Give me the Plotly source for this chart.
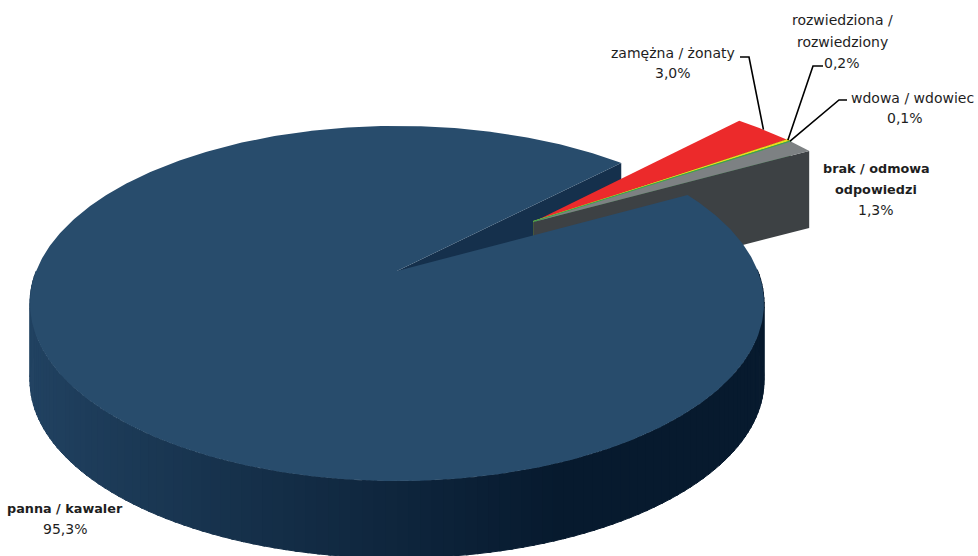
import numpy as np
import plotly.graph_objects as go

# ---- data -------------------------------------------------------------
categories = ["panna / kawaler", "zamężna / żonaty", "rozwiedziona / rozwiedziony",
              "wdowa / wdowiec", "brak / odmowa odpowiedzi"]
shares = [95.3, 3.0, 0.2, 0.1, 1.3]
value_labels = ["95,3%", "3,0%", "0,2%", "0,1%", "1,3%"]
exploded = [False, True, True, True, True]

# ---- styling ----------------------------------------------------------
top_colors = ["#284c6c", "#ec2a2b", "#e6de1e", "#3ea24e", "#7d8183"]
wall_colors = ["#15304c", "#a01a1c", "#b8b014", "#2a7a38", "#3d4144"]
edge_widths = [0, 0, 2.0, 2.2, 0]
side_left = np.array([33, 66, 97])
side_right = np.array([7, 26, 46])

W, H = 978, 556
X0, Y0 = 397.0, 271.0        # screen position of the pie centre
K, KC = 360.8, 171.6         # horizontal / vertical radius scale
P = 0.183                    # perspective foreshortening
T = 77.0                     # pie thickness in px
START = 28.8                 # angle where the first slice starts (deg, clockwise)
EXPLODE = 0.5                # offset of detached slices, in radii
SMALL_R = 1.04


def proj(X, Y, z=0.0):
    w = 1.0 + P * Y
    return X0 + K * X / w, Y0 - KC * Y / w + z


def rim(angle_deg, cx=0.0, cy=0.0, r=1.0, z=0.0):
    a = np.radians(angle_deg)
    return proj(cx + r * np.cos(a), cy + r * np.sin(a), z)


total = sum(shares)
cum = np.concatenate([[0], np.cumsum(shares)]) / total
a_start = START - 360 * cum[:-1]
a_end = START - 360 * cum[1:]

# detached slices move together along the bisector of their common span
grp = [i for i, e in enumerate(exploded) if e]
bis = np.radians((a_start[grp[0]] + a_end[grp[-1]]) / 2)
ex, ey = EXPLODE * np.cos(bis), EXPLODE * np.sin(bis)

fig = go.Figure()


def poly(xs, ys, color, lw=0):
    fig.add_trace(go.Scatter(x=list(xs), y=list(ys), mode="lines", fill="toself",
                             fillcolor=color,
                             line=dict(color=color, width=lw),
                             hoverinfo="skip", showlegend=False))


def seg(xs, ys, color, lw):
    fig.add_trace(go.Scatter(x=list(xs), y=list(ys), mode="lines",
                             line=dict(color=color, width=lw),
                             hoverinfo="skip", showlegend=False))


def rgb(c):
    return "rgb(%d,%d,%d)" % tuple(int(round(v)) for v in c)


# outer side of the main slice, shaded from left to right
n = 120
angs = np.linspace(180, 360, n + 1)
for k in range(n):
    a0, a1 = angs[k], angs[k + 1] + 0.4
    tx0, ty0 = rim(a0)
    tx1, ty1 = rim(a1)
    bx0, by0 = rim(a0, z=T)
    bx1, by1 = rim(a1, z=T)
    xm = (tx0 + tx1) / 2
    t = np.clip((xm - 30) / (560 - 30), 0, 1) ** 0.9
    col = rgb(side_left * (1 - t) + side_right * t)
    poly([tx0, tx1, bx1, bx0], [ty0, ty1, by1, by0], col, lw=1)

# cut wall of the main slice facing the gap
ang = a_end[0]
ox, oy = rim(ang)
obx, oby = rim(ang, z=T)
ax_, ay_ = proj(0, 0)
abx, aby = proj(0, 0, T)
poly([ax_, ox, obx, abx], [ay_, oy, oby, aby], wall_colors[0])

# detached slices: wall on the clockwise side, then top face
for i in grp:
    cxs, cys = ex, ey
    px, py = proj(cxs, cys)
    pbx, pby = proj(cxs, cys, T)
    ox, oy = rim(a_end[i], cxs, cys, SMALL_R)
    obx, oby = rim(a_end[i], cxs, cys, SMALL_R, T)
    poly([px, ox, obx, pbx], [py, oy, oby, pby], wall_colors[i])
    arc = np.linspace(a_end[i], a_start[i], 30)
    rx, ry = rim(arc, cxs, cys, SMALL_R)
    poly(np.concatenate([[px], rx]), np.concatenate([[py], ry]), top_colors[i],
         lw=edge_widths[i])
    if i == 1:
        # darker rim along the lower edge of the red slice
        e0x, e0y = proj(cxs, cys, 1.2)
        e1x, e1y = rim(a_end[i], cxs, cys, SMALL_R, 1.2)
        seg([e0x, e1x], [e0y, e1y], wall_colors[i], 2.6)

# top face of the main slice
arc = np.linspace(a_end[0], a_start[0], 600)
rx, ry = rim(arc)
ax_, ay_ = proj(0, 0)
poly(np.concatenate([[ax_], rx]), np.concatenate([[ay_], ry]), top_colors[0])

# ---- labels -----------------------------------------------------------
FONT = "DejaVu Sans"
label_layout = {
    0: dict(x=[65, 65], ys=[508, 529], bold=[True, False]),
    1: dict(x=[673, 673], ys=[53, 73], bold=[False, False], elbow=(740, 749, 57)),
    2: dict(x=[842, 842, 842], ys=[20, 42, 63], bold=[False, False, False],
            elbow=(823, 813, 66)),
    3: dict(x=[912, 905], ys=[98, 118], bold=[False, False], elbow=(847, 839, 100)),
    4: dict(x=[876, 876, 876], ys=[168, 189, 210], bold=[True, True, False]),
}
name_lines = {
    0: ["panna / kawaler"],
    1: ["zamężna / żonaty"],
    2: ["rozwiedziona /", "rozwiedziony"],
    3: ["wdowa / wdowiec"],
    4: ["brak / odmowa", "odpowiedzi"],
}

annotations = []
for i, cat in enumerate(categories):
    lay = label_layout[i]
    lines = name_lines[i] + [value_labels[i]]
    for j, (txt, y) in enumerate(zip(lines, lay["ys"])):
        bold = lay["bold"][j]
        annotations.append(dict(
            x=lay["x"][j], y=y, xref="x", yref="y",
            text=("<b>%s</b>" % txt) if bold else txt,
            showarrow=False, xanchor="center", yanchor="middle",
            font=dict(family=FONT, size=12.8 if bold else 14, color="#1e1e1e")))
    if "elbow" in lay:
        x_a, x_b, y_e = lay["elbow"]
        mid = (a_start[i] + a_end[i]) / 2
        tx, ty = rim(mid, ex, ey, SMALL_R)
        seg([x_a, x_b, tx], [y_e, y_e, ty], "#000000", 1.6)

fig.update_layout(
    width=W, height=H, margin=dict(l=0, r=0, t=0, b=0),
    paper_bgcolor="white", plot_bgcolor="white",
    xaxis=dict(range=[0, W], visible=False, fixedrange=True),
    yaxis=dict(range=[H, 0], visible=False, fixedrange=True),
    annotations=annotations, showlegend=False,
)
fig.write_html("out.html")
